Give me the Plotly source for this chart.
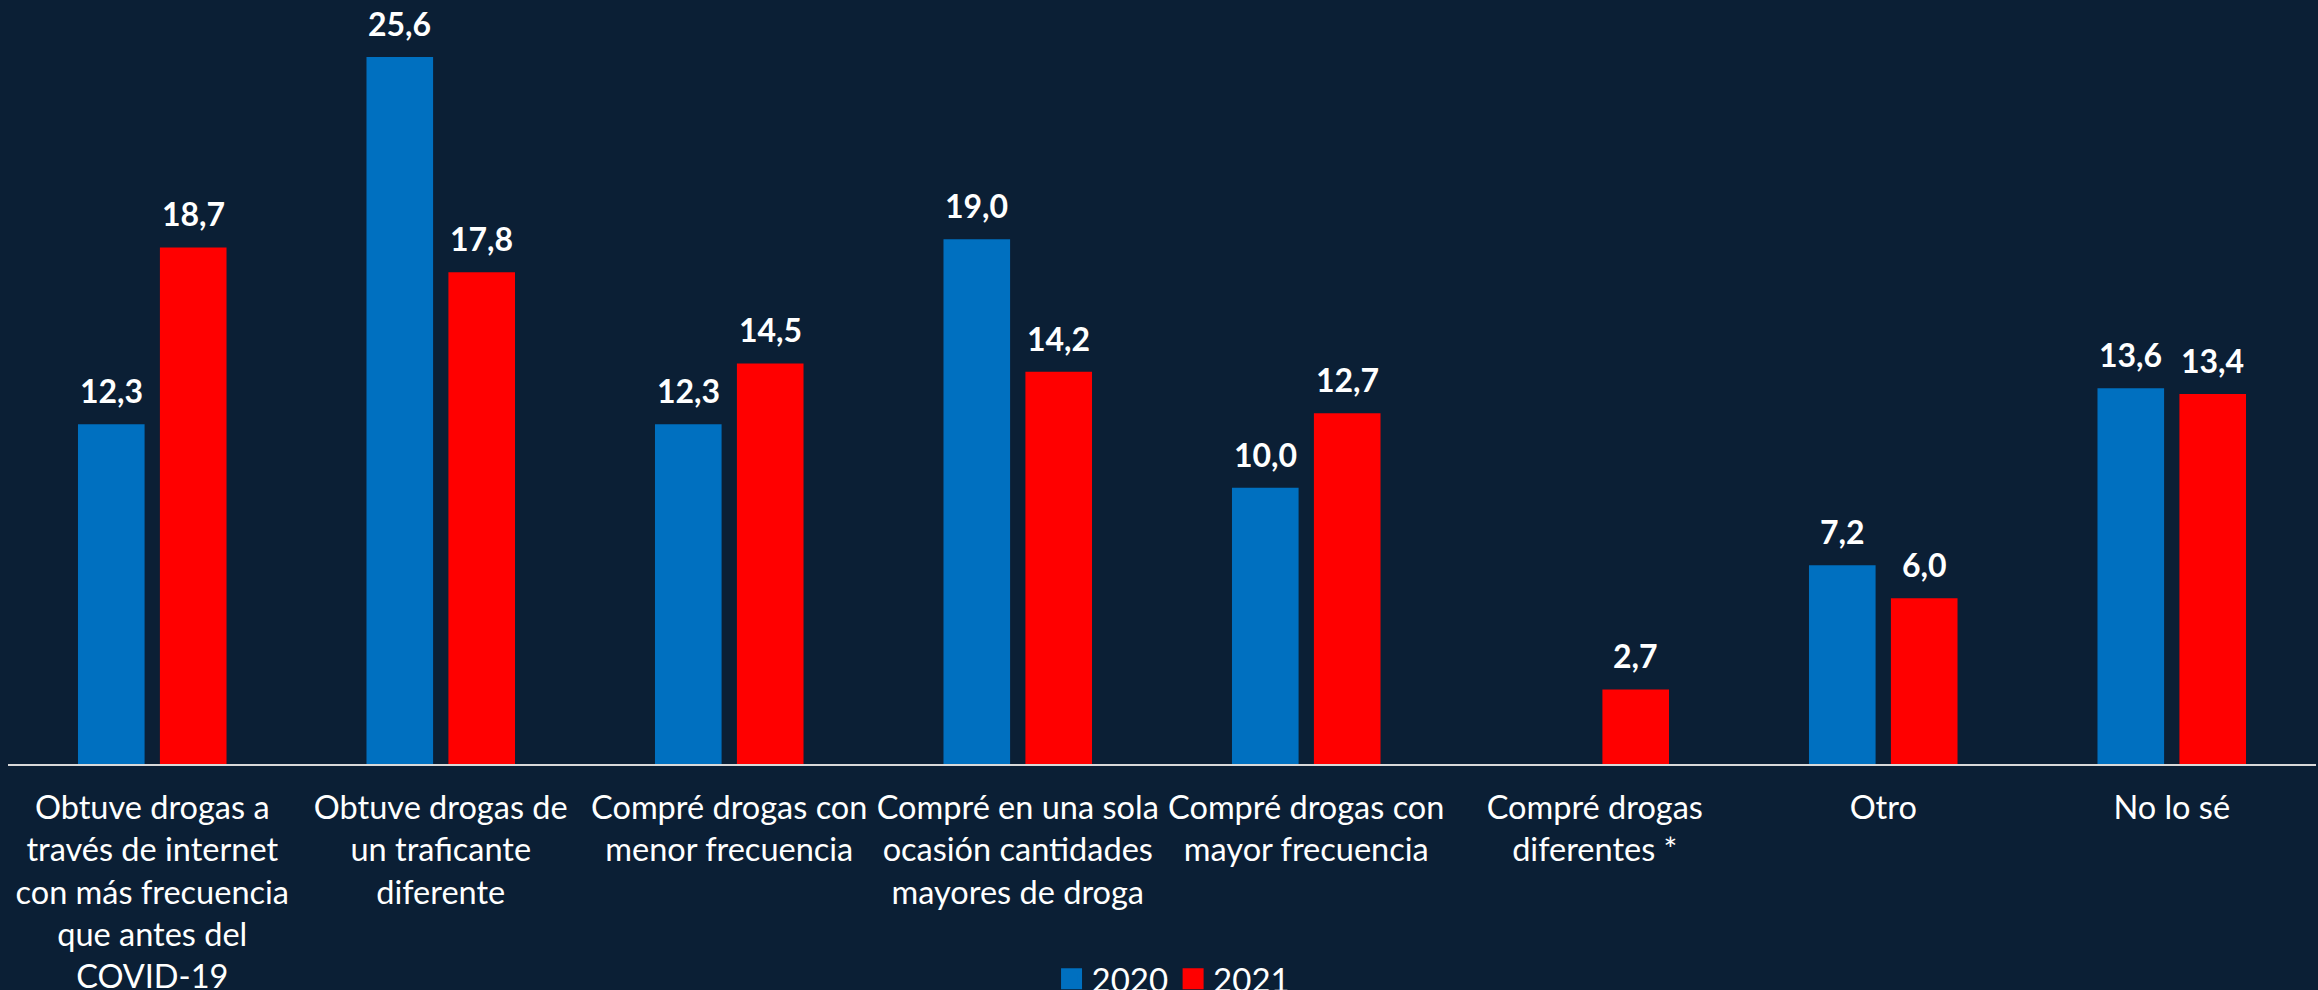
import plotly.graph_objects as go

# categories (x tick labels, wrapped like the original)
categorias = [
    "Obtuve drogas a<br>través de internet<br>con más frecuencia<br>que antes del<br>COVID-19",
    "Obtuve drogas de<br>un traficante<br>diferente",
    "Compré drogas con<br>menor frecuencia",
    "Compré en una sola<br>ocasión cantidades<br>mayores de droga",
    "Compré drogas con<br>mayor frecuencia",
    "Compré drogas<br>diferentes *",
    "Otro",
    "No lo sé",
]
anios = ["2020", "2021"]
valores_2020 = [12.3, 25.6, 12.3, 19.0, 10.0, None, 7.2, 13.6]
valores_2021 = [18.7, 17.8, 14.5, 14.2, 12.7, 2.7, 6.0, 13.4]

fondo = "#0b1f35"
colores = ["#0070c0", "#ff0000"]
bargap = 0.432

fig = go.Figure()
for k, (anio, vals) in enumerate(zip(anios, [valores_2020, valores_2021])):
    fig.add_trace(go.Bar(x=categorias, y=vals, name=anio, marker_color=colores[k],
                         marker_line_width=0, showlegend=False))
    # legend entry only (bigger square swatch than the bar default)
    fig.add_trace(go.Scatter(x=[None], y=[None], name=anio, mode="markers",
                             marker=dict(symbol="square", size=16, color=colores[k],
                                         line=dict(width=5, color=colores[k]))))
    # value labels above each bar, centred on the bar's slot in the group
    off = (k - 0.5) * (1 - bargap) / 2
    for i, v in enumerate(vals):
        if v is None:
            continue
        fig.add_annotation(x=i + off, y=v, xref="x", yref="y", yanchor="bottom",
                           yshift=12, showarrow=False,
                           text=f"{v:.1f}".replace(".", ","),
                           font=dict(family="Lato", size=32, color="white", weight="bold"))

fig.update_layout(
    width=2318, height=990,
    paper_bgcolor=fondo, plot_bgcolor=fondo,
    margin=dict(l=8, r=2, t=0, b=226, autoexpand=False),
    barmode="group", bargap=bargap, bargroupgap=0.187,
    font=dict(family="Lato", color="white", size=32),
    showlegend=True,
    legend=dict(orientation="h", x=0.505, xanchor="center", y=-0.281, yanchor="middle",
                font=dict(size=33, color="white"), itemwidth=30, itemsizing="trace",
                bgcolor="rgba(0,0,0,0)"),
)
fig.update_xaxes(showline=True, linecolor="#d9d9d9", linewidth=2,
                 showgrid=False, ticks="", ticklabelstandoff=14,
                 tickfont=dict(size=32.5, color="white"), tickangle=0)
fig.update_yaxes(range=[0, 27.66], visible=False, showgrid=False, zeroline=False)

# drop the browser's default 8px body margin so the chart fills the window
fig.write_html("out.html", config={"displayModeBar": False},
               post_script="document.body.style.margin='0';"
                           "document.body.style.background='#0b1f35';")
